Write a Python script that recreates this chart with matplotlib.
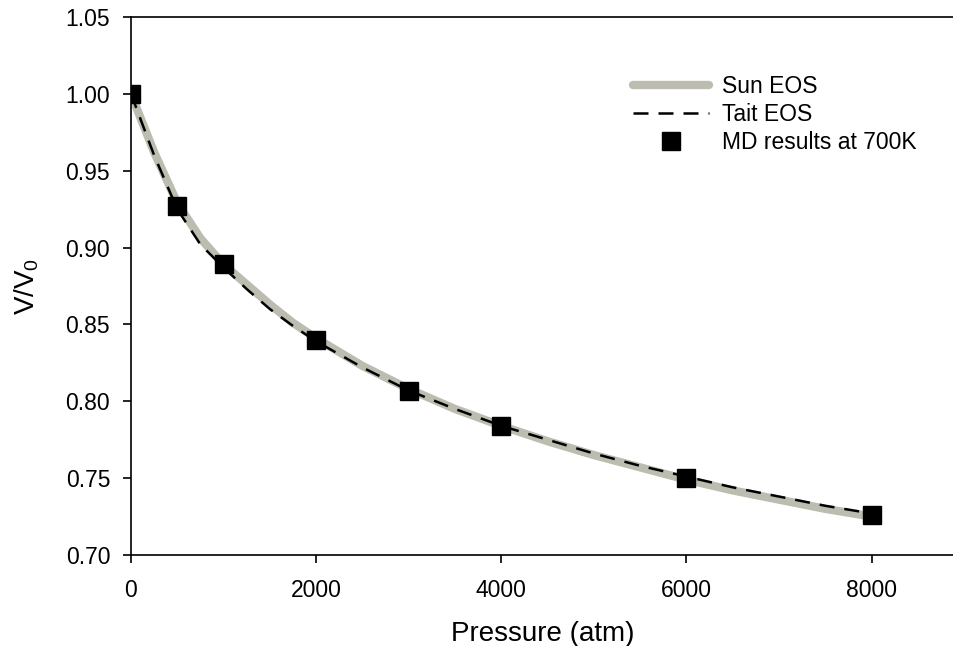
import matplotlib
matplotlib.use("Agg")
import matplotlib.pyplot as plt

plt.rcParams['font.family'] = ['Liberation Sans', 'DejaVu Sans']
plt.rcParams['mathtext.default'] = 'regular'

# MD results at 700K
md_p = [0, 500, 1000, 2000, 3000, 4000, 6000, 8000]
md_v = [1.000, 0.927, 0.889, 0.840, 0.807, 0.784, 0.750, 0.726]

# EOS curves
eos_p = [0, 250, 500, 750, 1000, 1250, 1500, 1750, 2000, 2500, 3000,
         3500, 4000, 4500, 5000, 5500, 6000, 6500, 7000, 7500, 8000]
sun_v = [1.000, 0.962, 0.929, 0.906, 0.889, 0.876, 0.863, 0.851, 0.841,
         0.823, 0.808, 0.795, 0.784, 0.774, 0.765, 0.757, 0.749, 0.742,
         0.736, 0.730, 0.725]
tait_v = [1.000, 0.960, 0.925, 0.902, 0.887, 0.873, 0.860, 0.849, 0.839,
          0.822, 0.807, 0.795, 0.784, 0.775, 0.766, 0.758, 0.751, 0.744,
          0.738, 0.732, 0.727]

fig = plt.figure(figsize=(9.54, 6.46), dpi=100)
ax = fig.add_axes([0.1373, 0.1409, 0.8627, 0.8328])

ax.plot(eos_p, sun_v, color='#bcbcb0', linewidth=6, solid_capstyle='round',
        label='Sun EOS')
ax.plot(eos_p, tait_v, color='black', linewidth=1.8, linestyle=(0, (6, 4)),
        label='Tait EOS')
ax.plot(md_p, md_v, linestyle='none', marker='s', markersize=13,
        color='black', label='MD results at 700K')

ax.set_xlim(0, 8890)
ax.set_ylim(0.70, 1.05)
ax.set_xticks([0, 2000, 4000, 6000, 8000])
ax.set_yticks([0.70, 0.75, 0.80, 0.85, 0.90, 0.95, 1.00, 1.05])
ax.set_yticklabels(['0.70', '0.75', '0.80', '0.85', '0.90', '0.95', '1.00', '1.05'])
ax.tick_params(direction='out', length=6, width=1.2, labelsize=16.5, pad=9)
ax.tick_params(axis='x', pad=11)
ax.spines['right'].set_visible(False)
for s in ['left', 'bottom', 'top']:
    ax.spines[s].set_linewidth(1.2)

ax.set_xlabel('Pressure (atm)', fontsize=20, labelpad=14)
ax.set_ylabel('V/V$_0$', fontsize=20, labelpad=18)

ax.legend(loc='upper left', bbox_to_anchor=(0.585, 0.931), frameon=False,
          fontsize=16.5, handlelength=3.3, handletextpad=0.6, labelspacing=0.22)

fig.savefig('out.png', dpi=100)
